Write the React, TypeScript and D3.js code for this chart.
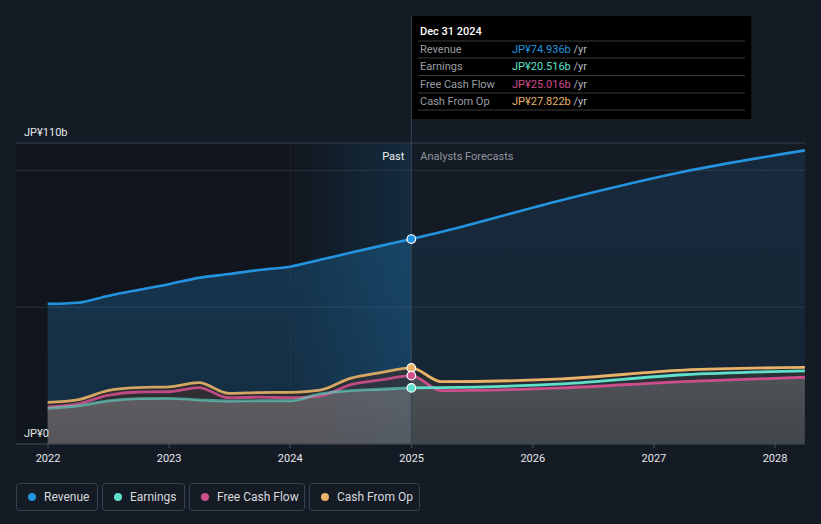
import React from "react";
import * as d3 from "d3";

const pastDates = [
  "2021-12-31", "2022-03-31", "2022-06-30", "2022-09-30", "2022-12-31",
  "2023-03-31", "2023-06-30", "2023-09-30", "2023-12-31",
  "2024-03-31", "2024-06-30", "2024-09-30", "2024-12-31",
];
const revenuePast = [51.2, 51.6, 54.1, 56.3, 58.4, 60.7, 62.1, 63.6, 64.8, 67.3, 69.9, 72.4, 74.9];
const earningsPast = [13.0, 13.9, 15.8, 16.6, 16.7, 16.1, 15.7, 15.8, 15.8, 18.3, 19.5, 20.0, 20.5];
const fcfPast = [13.6, 14.6, 17.8, 19.0, 19.1, 20.6, 16.9, 17.1, 16.9, 17.5, 21.6, 23.4, 25.0];
const cfoPast = [15.2, 16.1, 19.5, 20.6, 20.9, 22.4, 18.5, 18.8, 18.9, 19.7, 24.0, 26.1, 27.8];

const forecastDates = ["2024-12-31", "2025-03-31", "2026-03-31", "2027-03-31", "2028-03-31"];
const revenueFc = [74.9, 77.5, 89.2, 99.5, 107.3];
const earningsFc = [20.5, 20.6, 22.0, 25.3, 26.7];
const fcfFc = [25.0, 19.5, 20.5, 22.8, 24.4];
const cfoFc = [27.8, 22.8, 23.8, 27.0, 28.0];

const yearTicks = [2022, 2023, 2024, 2025, 2026, 2027, 2028];
const yTickLabels = [
  { v: 110, label: "JP¥110b" },
  { v: 0, label: "JP¥0" },
];
const gridValues = [0, 50, 100, 110];

const seriesNames = ["Revenue", "Earnings", "Free Cash Flow", "Cash From Op"];
const seriesColors = ["#2394df", "#5fe0cb", "#cc4f8c", "#e8b268"];
const tooltipValues = ["JP¥74.936b", "JP¥20.516b", "JP¥25.016b", "JP¥27.822b"];

type Pt = { d: Date; v: number };
const parse = d3.timeParse("%Y-%m-%d");

function mk(dates: string[], vals: number[]): Pt[] {
  return dates.map((s, i) => ({ d: parse(s) as Date, v: vals[i] }));
}

export default function App() {
  const W = 821, H = 524;
  const left = 16, right = 805, top = 144, bottom = 444;
  const x = d3.scaleTime()
    .domain([new Date(2022, 0, 1), new Date(2028, 0, 1)])
    .range([48, 775]);
  const y = d3.scaleLinear().domain([0, 110]).range([bottom, 143]);

  const full = (pd: number[], fd: number[]) =>
    mk(pastDates, pd).concat(mk(forecastDates, fd).slice(1));

  const series = [
    full(revenuePast, revenueFc),
    full(earningsPast, earningsFc),
    full(fcfPast, fcfFc),
    full(cfoPast, cfoFc),
  ];

  const line = d3.line<Pt>().x((p) => x(p.d)).y((p) => y(p.v)).curve(d3.curveMonotoneX);
  const area = d3.area<Pt>().x((p) => x(p.d)).y0(y(0)).y1((p) => y(p.v)).curve(d3.curveMonotoneX);

  const nowX = x(parse("2024-12-31") as Date);
  const bandX = x(new Date(2024, 0, 1));

  const font = "Roboto, 'Noto Sans', sans-serif";

  const legendBoxes = [
    { x: 16, w: 81 },
    { x: 102, w: 82 },
    { x: 189, w: 115 },
    { x: 309, w: 110 },
  ];

  return (
    <svg width={W} height={H} style={{ position: "absolute", left: 0, top: 0, display: "block" }} fontFamily={font}>
      <defs>
        <linearGradient id="band" x1="0" x2="1" y1="0" y2="0">
          <stop offset="0" stopColor="#2394df" stopOpacity={0} />
          <stop offset="1" stopColor="#2394df" stopOpacity={0.1} />
        </linearGradient>
        <linearGradient id="band2" x1="0" x2="1" y1="0" y2="0">
          <stop offset="0" stopColor="#2394df" stopOpacity={0} />
          <stop offset="1" stopColor="#2394df" stopOpacity={0.08} />
        </linearGradient>
        <linearGradient id="revPast" x1="0" x2="0" y1="0" y2="1">
          <stop offset="0" stopColor="#2394df" stopOpacity={0.28} />
          <stop offset="1" stopColor="#2394df" stopOpacity={0.18} />
        </linearGradient>
        <linearGradient id="revFc" x1="0" x2="0" y1="0" y2="1">
          <stop offset="0" stopColor="#2394df" stopOpacity={0.12} />
          <stop offset="1" stopColor="#2394df" stopOpacity={0.08} />
        </linearGradient>
        <linearGradient id="grayFill" gradientUnits="userSpaceOnUse" x1="0" x2="0" y1={360} y2={bottom}>
          <stop offset="0" stopColor="#ffffff" stopOpacity={0.17} />
          <stop offset="1" stopColor="#ffffff" stopOpacity={0.1} />
        </linearGradient>
        <clipPath id="clipPast">
          <rect x={0} y={0} width={nowX} height={H} />
        </clipPath>
        <clipPath id="clipFc">
          <rect x={nowX} y={0} width={W - nowX} height={H} />
        </clipPath>
      </defs>

      <rect x={0} y={0} width={W} height={H} fill="#151b25" />
      {/* past dark overlay */}
      <rect x={left} y={top} width={nowX - left} height={bottom - top} fill="#000" opacity={0.18} />
      {/* highlight band */}
      <rect x={bandX} y={top} width={nowX - bandX} height={bottom - top} fill="url(#band)" />
      <line x1={bandX} x2={bandX} y1={top} y2={bottom} stroke="#ffffff" strokeOpacity={0.05} />

      {/* gridlines */}
      {gridValues.map((v) => (
        <line key={v} x1={left} x2={right} y1={y(v)} y2={y(v)}
          stroke={v === 110 ? "#3a424e" : "#2a323d"} strokeWidth={1} />
      ))}

      {/* areas past */}
      <g clipPath="url(#clipPast)">
        <path d={area(series[0]) || ""} fill="url(#revPast)" />
        <path d={area(series[3]) || ""} fill="#2b2c2e" fillOpacity={0.95} />
        <path d={area(series[2]) || ""} fill="#a04a70" fillOpacity={0.05} />
        <path d={area(series[1]) || ""} fill="url(#grayFill)" />
        <path d={area(series[1]) || ""} fill="#ffffff" fillOpacity={0.1} />
        <rect x={bandX} y={top} width={nowX - bandX} height={bottom - top} fill="url(#band2)" />
      </g>
      {/* areas forecast */}
      <g clipPath="url(#clipFc)">
        <path d={area(series[0]) || ""} fill="url(#revFc)" />
        <path d={area(series[3]) || ""} fill="#2a2d31" fillOpacity={0.85} />
        <path d={area(series[1]) || ""} fill="#4a6a64" fillOpacity={0.12} />
        <path d={area(series[2]) || ""} fill="url(#grayFill)" />
      </g>

      {/* lines */}
      {[3, 2, 1, 0].map((i) => (
        <g key={i}>
          <path d={line(series[i]) || ""} fill="none" stroke={seriesColors[i]}
            strokeWidth={i === 0 ? 2.6 : 2.8} clipPath="url(#clipPast)"
            strokeOpacity={i === 1 ? 0.6 : i === 0 ? 1 : 0.9} />
          <path d={line(series[i]) || ""} fill="none" stroke={seriesColors[i]}
            strokeWidth={i === 0 ? 2.6 : 2.8} clipPath="url(#clipFc)" />
        </g>
      ))}

      {/* axis baseline */}
      <line x1={left} x2={right} y1={bottom} y2={bottom} stroke="#3a424e" />
      {yearTicks.map((yr) => {
        const tx = x(new Date(yr, 0, 1));
        return (
          <g key={yr}>
            <line x1={tx} x2={tx} y1={bottom} y2={bottom + 4} stroke="#4a525e" />
            <text x={tx} y={462} fill="#e6e8eb" fontSize={11} textAnchor="middle">{yr}</text>
          </g>
        );
      })}
      {yTickLabels.map((t) => (
        <text key={t.v} x={24} y={t.v === 110 ? 136 : 437} fill="#e6e8eb" fontSize={11}>{t.label}</text>
      ))}

      {/* past / forecast labels */}
      <text x={nowX - 7} y={160} fill="#f0f0f0" fontSize={11} textAnchor="end">Past</text>
      <text x={nowX + 9} y={160} fill="#8f959c" fontSize={11}>Analysts Forecasts</text>

      {/* tooltip */}
      <rect x={nowX} y={16} width={340} height={103} fill="#000" />
      <line x1={nowX} x2={nowX} y1={16} y2={bottom} stroke="#3a4450" strokeWidth={1} />
      <text x={420} y={35} fill="#ffffff" fontSize={11} fontWeight={500}>Dec 31 2024</text>
      {[41, 58, 75.5, 93, 110].map((sy) => (
        <line key={sy} x1={418} x2={745} y1={sy} y2={sy} stroke="#3a3a3a" />
      ))}
      {seriesNames.map((n, i) => (
        <g key={n}>
          <text x={420} y={53 + i * 17.4} fill="#9a9ea3" fontSize={11}>{n}</text>
          <text x={512} y={53 + i * 17.4} fontSize={11}>
            <tspan fill={seriesColors[i]}>{tooltipValues[i]}</tspan>
            <tspan fill="#b8bcc0"> /yr</tspan>
          </text>
        </g>
      ))}

      {/* markers */}
      {[3, 2, 1, 0].map((i) => {
        const p = series[i][pastDates.length - 1];
        return (
          <circle key={i} cx={x(p.d)} cy={y(p.v)} r={4.3} fill={seriesColors[i]}
            stroke="#ffffff" strokeWidth={1.2} />
        );
      })}

      {/* legend */}
      {seriesNames.map((n, i) => (
        <g key={n}>
          <rect x={legendBoxes[i].x + 0.5} y={483.5} width={legendBoxes[i].w} height={27} rx={3}
            fill="none" stroke="#3a424e" />
          <circle cx={legendBoxes[i].x + 16} cy={497} r={4} fill={seriesColors[i]} />
          <text x={legendBoxes[i].x + 28} y={501} fill="#d8dadd" fontSize={12}>{n}</text>
        </g>
      ))}
    </svg>
  );
}
